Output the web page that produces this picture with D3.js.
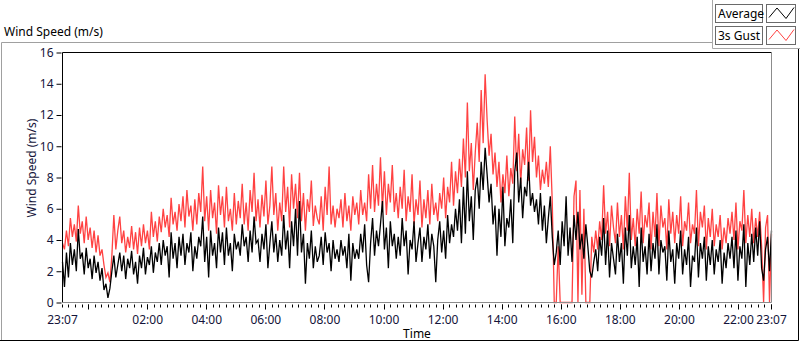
<!DOCTYPE html>
<html>
<head>
<meta charset="utf-8">
<script src="https://cdn.jsdelivr.net/npm/d3@7"></script>
<style>
  body { margin: 0; background: #fff; }
  svg { display: block; font-family: "Noto Sans", "Open Sans", sans-serif; }
</style>
</head>
<body>
<svg id="chart"></svg>
<script>
// 3 s gust, one value every 4 minutes from 23:07 to 23:07 next day
const gust = [
  3.8, 3.4, 4.6, 3.6, 5.4, 4.2, 5.0, 3.9, 6.2, 4.4,
  5.2, 3.8, 5.5, 4.0, 4.8, 3.5, 4.6, 3.2, 4.3, 3.0,
  3.4, 2.4, 1.6, 1.9, 1.3, 3.0, 5.6, 3.4, 4.6, 5.5,
  3.8, 4.6, 3.2, 4.2, 3.5, 4.9, 3.4, 4.5, 3.1, 4.8,
  3.6, 5.0, 3.8, 4.6, 3.4, 5.8, 4.2, 5.2, 3.9, 5.5,
  4.5, 6.0, 4.8, 5.6, 4.2, 6.7, 5.0, 5.8, 4.6, 6.3,
  5.2, 6.8, 4.8, 7.2, 5.5, 6.2, 4.6, 6.6, 5.0, 7.0,
  5.8, 8.7, 5.2, 6.8, 4.6, 7.2, 5.4, 6.4, 4.4, 7.5,
  5.6, 6.8, 4.8, 7.4, 5.2, 6.0, 4.6, 7.0, 5.0, 6.5,
  5.4, 7.6, 5.0, 6.4, 4.6, 7.2, 5.8, 8.3, 5.2, 6.6,
  4.8, 6.9, 5.5, 7.8, 5.0, 6.2, 8.7, 5.6, 7.0, 4.6,
  6.4, 5.2, 8.7, 5.8, 7.4, 4.8, 8.2, 6.0, 7.6, 5.4,
  8.3, 5.2, 7.0, 4.6, 6.6, 5.8, 7.8, 4.9, 6.2, 5.4,
  5.0, 6.8, 4.6, 7.4, 5.6, 8.7, 5.0, 6.2, 4.8, 6.0,
  5.4, 6.6, 4.8, 7.0, 5.2, 6.2, 4.6, 6.8, 5.6, 6.4,
  5.0, 7.2, 5.6, 6.4, 5.2, 8.2, 6.0, 8.8, 5.8, 7.6,
  6.2, 9.3, 6.0, 8.4, 5.6, 7.6, 6.4, 8.8, 5.8, 7.0,
  5.4, 7.4, 6.0, 8.5, 5.2, 6.8, 5.8, 8.2, 5.0, 6.6,
  5.6, 7.8, 4.8, 6.6, 5.4, 7.2, 5.0, 7.6, 5.6, 6.4,
  5.2, 7.0, 6.0, 8.0, 5.4, 7.4, 6.4, 9.0, 6.2, 8.4,
  7.0, 9.2, 7.4, 10.5, 8.0, 12.8, 8.4, 10.2, 7.2, 9.6,
  11.5, 9.0, 13.6, 10.2, 14.6, 11.7, 9.4, 10.8, 8.2, 9.6,
  7.4, 9.0, 6.4, 8.2, 7.0, 9.4, 6.8, 8.6, 7.6, 11.9,
  8.4, 10.8, 7.6, 9.8, 8.8, 11.2, 7.8, 12.3, 9.0, 10.6,
  8.0, 9.4, 7.2, 8.5, 7.6, 9.0, 7.4, 10.0, 6.4, 0,
  0, 3.6, 0, 0, 0, 0, 0, 0, 0, 6.8,
  7.8, 0, 7.2, 0.5, 6.0, 0, 0, 0, 4.2, 3.2,
  4.6, 3.4, 5.2, 4.0, 7.5, 4.4, 5.8, 3.6, 6.2, 4.8,
  3.8, 6.4, 4.2, 5.6, 3.4, 6.8, 4.6, 8.3, 4.0, 5.4,
  3.6, 6.0, 4.4, 7.1, 3.8, 5.6, 4.8, 6.4, 3.4, 5.8,
  4.2, 7.0, 3.6, 6.2, 4.8, 5.4, 3.4, 6.6, 4.4, 5.8,
  3.8, 5.6, 4.4, 6.8, 3.6, 5.2, 4.6, 6.4, 3.8, 5.0,
  4.4, 7.2, 3.6, 5.8, 4.8, 6.2, 3.4, 5.4, 4.2, 6.0,
  3.6, 5.0, 4.2, 5.6, 3.4, 4.8, 3.8, 5.4, 4.4, 5.8,
  4.0, 6.4, 3.4, 5.2, 4.6, 7.2, 3.8, 5.6, 4.2, 6.0,
  3.8, 5.4, 4.2, 5.8, 3.6, 0, 4.8, 5.6, 0, 4.4
];

// average wind speed, same time steps
const average = [
  2.6, 1.0, 3.2, 1.6, 3.8, 2.4, 3.4, 2.0, 4.7, 2.8,
  3.2, 1.8, 3.5, 2.2, 2.8, 1.5, 3.0, 1.9, 2.6, 1.4,
  2.2, 0.8, 1.2, 0.3, 0.9, 2.0, 3.0, 1.6, 2.4, 3.2,
  2.0, 3.0, 1.5, 2.8, 2.2, 3.3, 1.8, 2.6, 1.2, 3.0,
  2.2, 3.5, 1.8, 2.9, 2.4, 3.6, 1.9, 3.2, 2.6, 3.8,
  2.4, 4.0, 3.0, 3.6, 1.6, 4.5, 2.8, 3.8, 2.2, 4.2,
  3.0, 4.4, 2.4, 3.8, 3.2, 4.5, 2.0, 3.6, 2.8, 4.2,
  3.6, 5.5, 2.6, 4.2, 1.6, 4.6, 3.0, 3.8, 2.2, 4.8,
  3.2, 4.5, 2.4, 4.8, 3.0, 3.8, 2.0, 4.4, 3.4, 3.9,
  3.0, 5.0, 3.6, 4.2, 2.6, 4.6, 3.2, 5.5, 3.8, 4.0,
  2.6, 4.4, 3.4, 5.0, 2.2, 3.8, 5.2, 3.2, 4.4, 2.6,
  4.0, 3.0, 5.6, 3.4, 4.6, 2.2, 5.2, 3.6, 6.0, 3.0,
  6.5, 3.2, 4.4, 1.2, 3.8, 2.8, 4.6, 2.2, 3.6, 2.6,
  3.0, 4.2, 2.4, 4.5, 3.2, 3.8, 2.0, 4.0, 2.8, 3.4,
  2.6, 4.0, 3.0, 3.6, 2.2, 4.4, 1.4, 3.8, 2.8, 3.4,
  2.8, 4.4, 3.2, 5.0, 2.4, 1.3, 3.8, 5.4, 3.0, 4.6,
  3.6, 5.0, 6.5, 3.4, 4.8, 2.2, 5.2, 3.6, 4.4, 2.8,
  4.2, 3.0, 5.4, 3.6, 4.6, 1.8, 4.0, 3.4, 5.2, 2.6,
  3.8, 4.8, 2.6, 4.2, 3.4, 5.0, 2.8, 4.4, 3.6, 1.3,
  4.0, 5.2, 3.2, 4.6, 2.8, 5.6, 3.8, 5.0, 4.2, 6.0,
  4.6, 6.6, 3.8, 7.4, 4.4, 8.4, 5.2, 6.8, 4.0, 7.2,
  8.0, 6.0, 9.0, 7.2, 9.9, 8.2, 6.4, 7.6, 5.0, 6.2,
  3.0, 6.0, 4.2, 7.4, 3.6, 5.4, 4.8, 6.6, 3.8, 8.4,
  9.6, 6.4, 8.0, 5.4, 7.4, 6.8, 9.0, 6.2, 7.0, 5.8,
  6.6, 5.0, 7.0, 4.6, 6.2, 3.8, 5.4, 6.8, 4.2, 2.4,
  3.2, 4.6, 2.4, 5.2, 3.6, 6.8, 3.0, 4.8, 2.6, 5.6,
  4.0, 5.8, 3.4, 4.4, 2.8, 5.0, 3.6, 2.0, 1.6, 2.6,
  3.4, 2.0, 4.2, 3.0, 5.4, 2.4, 4.6, 1.6, 3.8, 2.8,
  1.8, 4.4, 2.6, 3.8, 1.2, 4.8, 3.0, 5.6, 2.2, 3.6,
  2.4, 4.2, 1.0, 4.8, 2.6, 3.6, 1.8, 4.4, 2.0, 3.8,
  2.8, 5.0, 1.8, 4.0, 3.2, 3.6, 1.4, 4.6, 2.6, 3.4,
  1.2, 3.8, 2.8, 4.6, 1.8, 3.4, 2.4, 4.2, 1.0, 3.0,
  2.6, 4.8, 1.6, 3.8, 2.8, 4.2, 1.4, 3.6, 2.4, 4.0,
  1.8, 3.4, 2.6, 4.0, 1.2, 3.2, 2.2, 3.8, 2.8, 4.2,
  2.2, 4.6, 1.4, 3.6, 2.8, 5.0, 1.0, 3.8, 2.4, 4.4,
  2.6, 4.8, 3.0, 5.2, 2.2, 1.4, 3.4, 4.2, 2.0, 4.6
];

const seriesNames = ['Average', '3s Gust'];
const seriesColors = ['#000000', '#ff4242'];
const yTicks = [0, 2, 4, 6, 8, 10, 12, 14, 16];
const timeStart = new Date(2021, 5, 1, 23, 7);
const timeEnd = new Date(2021, 5, 2, 23, 7);

class WindChart {

    constructor( config ) {
        this.config = {
            parent: config.parent,
            width: config.width || 800,
            height: config.height || 342,
            margin: config.margin || {top: 52.5, right: 28.5, bottom: 39.5, left: 62.5}
        }
        this.init();
    }

    init() {
        let self = this;

        self.svg = d3.select(self.config.parent)
            .attr('width', self.config.width)
            .attr('height', self.config.height);

        self.inner_width = self.config.width - self.config.margin.left - self.config.margin.right;
        self.inner_height = self.config.height - self.config.margin.top - self.config.margin.bottom;

        self.xscale = d3.scaleTime()
            .domain([timeStart, timeEnd])
            .range([0, self.inner_width]);

        self.yscale = d3.scaleLinear()
            .domain([0, 16])
            .range([self.inner_height, 0]);

        // outer panel frame
        self.svg.append('path')
            .attr('d', 'M1.5,340 V42.5 H712')
            .attr('fill', 'none')
            .attr('stroke', '#a0a0a0');
        self.svg.append('path')
            .attr('d', 'M0,340.5 H798.5 V48')
            .attr('fill', 'none')
            .attr('stroke', '#000');

        self.svg.append('text')
            .attr('x', 4)
            .attr('y', 36)
            .style('font-size', '12px')
            .text('Wind Speed (m/s)');

        self.chart = self.svg.append('g')
            .attr('transform', `translate(${self.config.margin.left}, ${self.config.margin.top})`);

        self.lines_group = self.chart.append('g');

        // plot frame: dark top/left, grey bottom/right
        self.chart.append('path')
            .attr('d', `M0,${self.inner_height} V0 H${self.inner_width}`)
            .attr('fill', 'none')
            .attr('stroke', '#000');
        self.chart.append('path')
            .attr('d', `M0,${self.inner_height} H${self.inner_width} V0`)
            .attr('fill', 'none')
            .attr('stroke', '#8c8c8c');

        self.yaxis = d3.axisLeft(self.yscale)
            .tickValues(yTicks)
            .tickSize(5)
            .tickPadding(3);

        self.yaxis_group = self.chart.append('g')
            .attr('transform', 'translate(-1, 0)');

        self.xaxis_group = self.chart.append('g')
            .attr('transform', `translate(0, ${self.inner_height + 1})`);

        self.svg.append('text')
            .attr('transform', 'rotate(-90)')
            .attr('x', -168)
            .attr('y', 36)
            .attr('text-anchor', 'middle')
            .style('font-size', '12px')
            .attr('fill', '#14143a')
            .text('Wind Speed (m/s)');

        self.svg.append('text')
            .attr('x', self.config.margin.left + self.inner_width / 2)
            .attr('y', 338)
            .attr('text-anchor', 'middle')
            .style('font-size', '12px')
            .text('Time');

        self.legend();
    }

    legend() {
        let self = this;
        const lg = self.svg.append('g');
        lg.append('path')
            .attr('d', 'M712.5,0 V48.5 H800')
            .attr('fill', 'none')
            .attr('stroke', '#a8a8a8');

        seriesNames.forEach((name, i) => {
            const y0 = 4.5 + i * 22;
            lg.append('rect')
                .attr('x', 715.5).attr('y', y0)
                .attr('width', 47).attr('height', 18)
                .attr('fill', '#fff')
                .attr('stroke', '#6a6a6a');
            lg.append('text')
                .attr('x', 718).attr('y', y0 + 13.5)
                .style('font-size', '12px')
                .text(name);
            lg.append('rect')
                .attr('x', 766.5).attr('y', y0)
                .attr('width', 29).attr('height', 18)
                .attr('fill', '#fff')
                .attr('stroke', '#6a6a6a');
            lg.append('path')
                .attr('d', `M769,${y0 + 13} L777,${y0 + 3.5} L786,${y0 + 14} L794,${y0 + 3}`)
                .attr('fill', 'none')
                .attr('stroke', seriesColors[i]);
        });
    }

    update() {
        let self = this;
        const step = (timeEnd - timeStart) / (gust.length - 1);
        self.gust_data = gust.map((v, i) => ({t: new Date(+timeStart + i * step), v: v}));
        self.avg_data = average.map((v, i) => ({t: new Date(+timeStart + i * step), v: v}));
        self.render();
    }

    render() {
        let self = this;

        let line = d3.line()
            .x(d => self.xscale(d.t))
            .y(d => self.yscale(d.v));

        self.lines_group.selectAll('path')
            .data([self.gust_data, self.avg_data])
            .join('path')
            .attr('d', line)
            .attr('fill', 'none')
            .attr('stroke', (d, i) => i == 0 ? seriesColors[1] : seriesColors[0])
            .attr('stroke-width', 1.3);

        self.yaxis_group.call(self.yaxis);
        self.yaxis_group.select('.domain').remove();
        self.yaxis_group.selectAll('text')
            .style('font-size', '12px')
            .style('font-family', '"Noto Sans", sans-serif')
            .attr('fill', '#14143a');

        // minor ticks every 2h/9 aligned on midnight, major ticks every 2 hours
        const midnight = d3.timeDay.ceil(timeStart);
        const minorStep = 2 * 3600 * 1000 / 9;
        const minor = [];
        for (let t = +midnight - 4 * minorStep; t <= +timeEnd + 1000; t += minorStep) {
            minor.push(new Date(Math.max(t, +timeStart)));
        }
        const major = d3.timeHour.every(2).range(timeStart, timeEnd);
        const labelled = [timeStart].concat(major.filter(d => d.getHours() != 0), [timeEnd]);

        self.xaxis_group.selectAll('line.minor')
            .data(minor)
            .join('line')
            .attr('class', 'minor')
            .attr('x1', d => Math.round(self.xscale(d)))
            .attr('x2', d => Math.round(self.xscale(d)))
            .attr('y1', 1)
            .attr('y2', 4)
            .attr('stroke', '#000');

        self.xaxis_group.selectAll('line.major')
            .data(major.concat([timeEnd]))
            .join('line')
            .attr('class', 'major')
            .attr('x1', d => Math.round(self.xscale(d)))
            .attr('x2', d => Math.round(self.xscale(d)))
            .attr('y1', 1)
            .attr('y2', 6)
            .attr('stroke', '#000');

        const fmt = d3.timeFormat('%H:%M');
        self.xaxis_group.selectAll('text')
            .data(labelled)
            .join('text')
            .attr('x', d => self.xscale(d))
            .attr('y', 20)
            .attr('text-anchor', 'middle')
            .style('font-size', '12px')
            .attr('fill', '#14143a')
            .text(d => fmt(d));
    }
}

const chart = new WindChart({ parent: '#chart' });
chart.update();
</script>
</body>
</html>
